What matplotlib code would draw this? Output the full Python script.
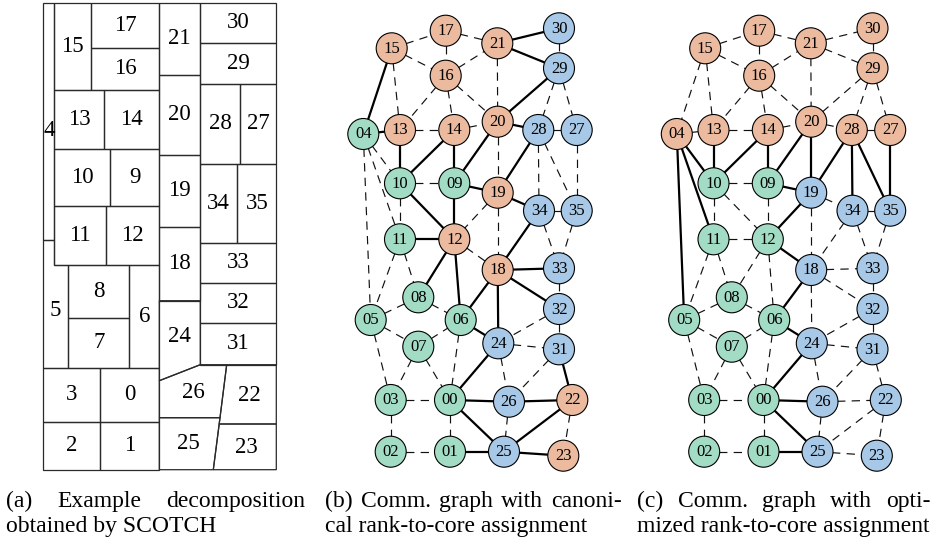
import numpy as np
import matplotlib.pyplot as plt
from matplotlib.patches import Polygon, Circle

plt.rcParams['font.family'] = ['Liberation Serif', 'DejaVu Serif']
plt.rcParams['lines.scale_dashes'] = False

W, H = 935, 547

# --- (a) domain decomposition, one cell per rank (x right, y down) ---
rect_parts = {
    4: (0, 0, 11, 237), 15: (11, 0, 48, 87), 17: (48, 0, 116, 45),
    16: (48, 45, 116, 87), 13: (11, 87, 61, 146), 14: (61, 87, 116, 146),
    10: (11, 146, 67, 203), 9: (67, 146, 116, 203), 11: (11, 203, 63, 262),
    12: (63, 203, 116, 262), 8: (25, 262, 86, 315), 7: (25, 315, 86, 365),
    6: (86, 262, 116, 365), 3: (0, 365, 57, 419), 0: (57, 365, 116, 419),
    2: (0, 419, 57, 467), 1: (57, 419, 116, 467), 21: (116, 0, 157, 72),
    20: (116, 72, 157, 152), 19: (116, 152, 157, 224), 18: (116, 224, 157, 298),
    30: (157, 0, 233, 40), 29: (157, 40, 233, 81), 28: (157, 81, 197, 161),
    27: (197, 81, 233, 161), 34: (157, 161, 194, 240), 35: (194, 161, 233, 240),
    33: (157, 240, 233, 280), 32: (157, 280, 233, 320), 31: (157, 320, 233, 362),
}
poly_parts = {
    5: [(0, 237), (11, 237), (11, 262), (25, 262), (25, 365), (0, 365)],
    24: [(116, 298), (157, 298), (157, 362), (116, 378)],
    26: [(116, 378), (157, 362), (183.4, 362), (176.7, 415), (116, 415)],
    22: [(183.4, 362), (233, 362), (233, 421.3), (175.9, 421.3)],
    25: [(116, 415), (176.7, 415), (170, 467), (116, 467)],
    23: [(175.9, 421.3), (233, 421.3), (233, 467), (170, 467)],
}

# --- communication graph: node layout (ranks 0..35) and edges ---
layout = [
    (110, 400), (110, 451.7), (50.7, 451.7), (50.7, 400), (23.3, 134),
    (30.7, 320), (120.7, 320), (78.3, 346.7), (78.3, 297.3), (114.3, 183.3),
    (60, 183.3), (60, 239.3), (114.3, 239.3), (60, 130), (114.3, 130),
    (51.7, 48.3), (105.7, 75.7), (105.7, 30.7), (157.7, 270), (157.7, 192.7),
    (157.7, 121.7), (157.3, 43.3), (232.3, 400), (223.3, 455.7), (158.3, 343.3),
    (164, 451.7), (169, 401.7), (236.7, 130), (198.3, 130), (219, 68.3),
    (219, 28.3), (219, 349.3), (219, 309), (219, 268.3), (199, 210.7),
    (236.7, 210.7),
]
edges = [
    (15, 17), (17, 21), (15, 16), (16, 21), (17, 16), (21, 30), (21, 29),
    (30, 29), (21, 20), (15, 4), (15, 13), (16, 13), (16, 14), (16, 20),
    (29, 20), (29, 28), (29, 27), (4, 13), (13, 14), (14, 20), (20, 28),
    (28, 27), (4, 10), (4, 11), (4, 5), (13, 10), (10, 14), (14, 9), (9, 20),
    (10, 9), (20, 19), (28, 19), (28, 34), (28, 35), (27, 35), (9, 19),
    (19, 34), (34, 35), (10, 11), (10, 12), (9, 12), (19, 12), (11, 12),
    (19, 18), (34, 18), (34, 33), (35, 33), (11, 5), (11, 8), (12, 8),
    (12, 6), (12, 18), (18, 33), (18, 32), (18, 6), (18, 24), (5, 8), (8, 6),
    (5, 7), (7, 6), (6, 24), (32, 24), (33, 32), (32, 31), (24, 31), (5, 3),
    (7, 3), (7, 0), (6, 0), (24, 0), (24, 26), (31, 26), (31, 22), (3, 0),
    (0, 26), (26, 22), (0, 25), (3, 2), (0, 1), (26, 25), (22, 25), (22, 23),
    (2, 1), (1, 25), (25, 23),
]

# node (core) assignment: 0 = green, 1 = orange, 2 = blue
canonical = [r // 12 for r in range(36)]
optimized_orange = [4, 13, 14, 15, 16, 17, 20, 21, 27, 28, 29, 30]
optimized_blue = [18, 19, 22, 23, 24, 25, 26, 31, 32, 33, 34, 35]
optimized = [1 if r in optimized_orange else 2 if r in optimized_blue else 0
             for r in range(36)]

node_colors = ['#a3dcc5', '#ecbb9f', '#a7c8e6']

captions = [
    (6, 305, ['(a)', 'Example', 'decomposition'], 'obtained by SCOTCH'),
    (325, 622, ['(b)', 'Comm.', 'graph', 'with', 'canoni-'],
     'cal rank-to-core assignment'),
    (637, 931, ['(c)', 'Comm.', 'graph', 'with', 'opti-'],
     'mized rank-to-core assignment'),
]

fig = plt.figure(figsize=(W / 100, H / 100), dpi=100)


def panel(ox, oy):
    # axes over the whole figure, 1 data unit = 1 pixel, origin at (ox, oy)
    ax = fig.add_axes([0, 0, 1, 1])
    ax.set_xlim(-ox, W - ox)
    ax.set_ylim(H - oy, -oy)
    ax.axis('off')
    return ax


def centroid(pts):
    p = np.array(pts, dtype=float)
    x, y = p[:, 0], p[:, 1]
    x1, y1 = np.roll(x, -1), np.roll(y, -1)
    cr = x * y1 - x1 * y
    a = cr.sum() / 2
    return (((x + x1) * cr).sum() / (6 * a), ((y + y1) * cr).sum() / (6 * a))


# (a) decomposition
ax_a = panel(43.3, 2.7)
cells = {k: [(x0, y0), (x1, y0), (x1, y1), (x0, y1)]
         for k, (x0, y0, x1, y1) in rect_parts.items()}
cells.update(poly_parts)
for rank, pts in cells.items():
    ax_a.add_patch(Polygon(pts, closed=True, fc='none', ec='#2a2a2a', lw=0.9))
    cx, cy = centroid(pts)
    if rank == 4:
        cy += 9  # the thin strip label sits a little lower
    ax_a.text(cx, cy, str(rank), ha='center', va='center', fontsize=16.5)


def draw_graph(ax, groups):
    for a, b in edges:
        xs = [layout[a][0], layout[b][0]]
        ys = [layout[a][1], layout[b][1]]
        if groups[a] == groups[b]:
            ax.plot(xs, ys, color='#111111', lw=0.85, ls=(0, (6, 4.5)), zorder=1)
        else:
            ax.plot(xs, ys, color='black', lw=1.6, zorder=1)
    for r, (x, y) in enumerate(layout):
        ax.add_patch(Circle((x, y), 15.5, fc=node_colors[groups[r]],
                            ec='black', lw=0.8, zorder=2))
        ax.text(x, y + 0.5, f'{r:02d}', ha='center', va='center', fontsize=12,
                zorder=3)


draw_graph(panel(340, 0), canonical)
draw_graph(panel(653.5, 0), optimized)

# justified two-line captions
ax_c = panel(0, 0)
renderer = fig.canvas.get_renderer()
cap_size = 17
for x0, x1, words, second in captions:
    texts = [ax_c.text(x0, 507, w, fontsize=cap_size, ha='left', va='baseline')
             for w in words]
    widths = [t.get_window_extent(renderer).width for t in texts]
    gap = (x1 - x0 - sum(widths)) / (len(words) - 1)
    x = x0
    for t, w in zip(texts, widths):
        t.set_x(x)
        x += w + gap
    ax_c.text(x0, 532, second, fontsize=cap_size, ha='left', va='baseline')

fig.savefig('out.png', dpi=100)
